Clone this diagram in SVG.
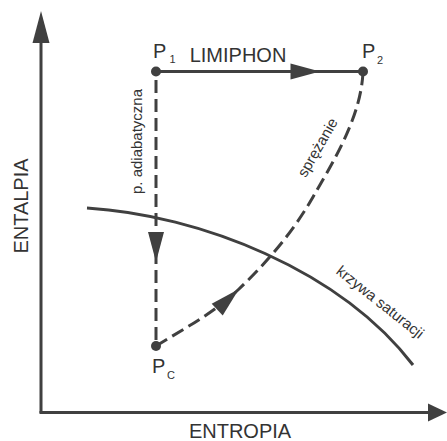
<svg xmlns="http://www.w3.org/2000/svg" width="447" height="441" viewBox="0 0 447 441">
<style>
.ln{fill:none;stroke:#404040;stroke-width:3}
.dash{fill:none;stroke:#404040;stroke-width:3;stroke-dasharray:13 6}
.ah{fill:#404040}
.t{font-family:"Liberation Sans",Arial,sans-serif;fill:#333}
.big{font-size:20px}
.sm{font-size:15px}
.sub{font-size:11px}
</style>
<rect width="447" height="441" fill="#fff"/>
<g id="axes">
<path class="ln" d="M41,413 V42"/>
<polygon class="ah" points="41,11 49.5,43 32.5,43"/>
<path class="ln" d="M39.5,412.5 H430"/>
<polygon class="ah" points="447,412.5 428,403.5 428,421.5"/>
<text class="t big" x="240" y="438" text-anchor="middle">ENTROPIA</text>
<text class="t big" transform="translate(28,206) rotate(-90)" text-anchor="middle">ENTALPIA</text>
</g>
<g id="connectors">
<path class="ln" d="M156,71.5 H363"/>
<polygon class="ah" points="320,71.5 290.5,63.5 290.5,79.5"/>
<path class="dash" d="M156,80 V346"/>
<polygon class="ah" points="156,262 148,232 164,232"/>
<path class="dash" d="M156,346 C184,328.5 212.8,313.8 239,289 C265.2,264.2 292.3,233.2 313,197 C333.7,160.8 361,117 363,72"/>
<polygon class="ah" points="239,289 222.7,315.4 211.7,303.8"/>
<path class="ln" d="M87,208 C200,215 340,270 413,365"/>
</g>
<g id="P1">
<circle cx="156" cy="71.5" r="5" class="ah"/>
<text class="t big" x="153" y="58">P</text>
<text class="t sub" x="169.5" y="63">1</text>
</g>
<g id="P2">
<circle cx="363" cy="71.5" r="5" class="ah"/>
<text class="t big" x="362" y="58">P</text>
<text class="t sub" x="377" y="64">2</text>
</g>
<g id="Pc">
<circle cx="156" cy="346" r="5" class="ah"/>
<text class="t big" x="152" y="373">P</text>
<text class="t sub" x="167" y="379">C</text>
</g>
<g id="labels">
<text class="t big" x="238" y="61.5" text-anchor="middle">LIMIPHON</text>
<text class="t sm" transform="translate(142,141.5) rotate(-90)" text-anchor="middle">p. adiabatyczna</text>
<text class="t sm" transform="translate(322,150) rotate(-60)" text-anchor="middle">sprężanie</text>
<text class="t sm" transform="translate(377,306) rotate(38.5)" text-anchor="middle">krzywa saturacji</text>
</g>
</svg>
